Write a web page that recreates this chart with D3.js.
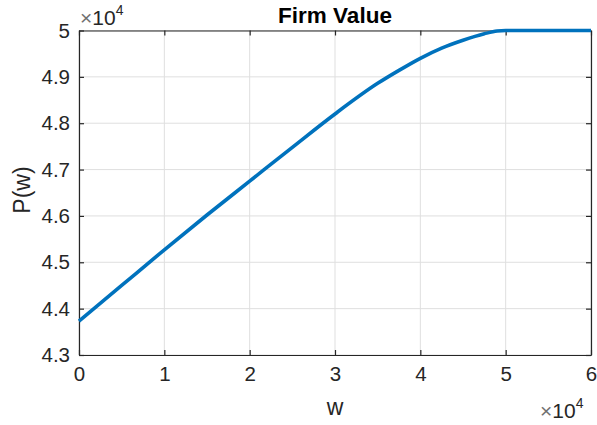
<!DOCTYPE html>
<html><head><meta charset="utf-8">
<script src="https://cdn.jsdelivr.net/npm/d3@7"></script>
<style>body{margin:0;background:#fff}svg{display:block}text{font-family:"Liberation Sans",Arial,Helvetica,sans-serif}</style>
</head><body><svg id="c" width="597" height="425"></svg>
<script>
// w in units of 1e4, P in units of 1e4
const wVals = [0, 0.5, 1, 1.5, 2, 2.5, 3, 3.5, 3.75, 4, 4.25, 4.5, 4.75, 4.9, 5, 5.5, 6];
const pVals = [4.373, 4.450, 4.527, 4.602, 4.675, 4.748, 4.820, 4.886, 4.914, 4.940, 4.962, 4.979, 4.993, 4.999, 5.0, 5.0, 5.0];
const xTicks = [0, 1, 2, 3, 4, 5, 6];
const yTicks = [4.3, 4.4, 4.5, 4.6, 4.7, 4.8, 4.9, 5];

const svg = d3.select("#c");
const L = 79, R = 591, T = 30.5, B = 355;
const x = d3.scaleLinear().domain([0, 6]).range([L, R]);
const y = d3.scaleLinear().domain([4.3, 5]).range([B, T]);
const axisCol = "#262626";

// grid
svg.append("g").selectAll("line.gx").data(xTicks).join("line")
  .attr("x1", d => x(d)).attr("x2", d => x(d)).attr("y1", T).attr("y2", B)
  .attr("stroke", "#dfdfdf").attr("stroke-width", 1);
svg.append("g").selectAll("line.gy").data(yTicks).join("line")
  .attr("x1", L).attr("x2", R).attr("y1", d => y(d)).attr("y2", d => y(d))
  .attr("stroke", "#dfdfdf").attr("stroke-width", 1);

// axes
const xa = svg.append("g").attr("transform", `translate(0,${B})`)
  .call(d3.axisBottom(x).tickValues(xTicks).tickFormat(d3.format("d")).tickSizeInner(-5).tickSizeOuter(0).tickPadding(11));
const xt = svg.append("g").attr("transform", `translate(0,${T})`)
  .call(d3.axisTop(x).tickValues(xTicks).tickFormat("").tickSizeInner(-5).tickSizeOuter(0));
const ya = svg.append("g").attr("transform", `translate(${L},0)`)
  .call(d3.axisLeft(y).tickValues(yTicks).tickFormat(d => d === 5 ? "5" : d3.format(".1f")(d)).tickSizeInner(-5).tickSizeOuter(0).tickPadding(9));
const yr = svg.append("g").attr("transform", `translate(${R},0)`)
  .call(d3.axisRight(y).tickValues(yTicks).tickFormat("").tickSizeInner(-5).tickSizeOuter(0));
[xa, xt, ya, yr].forEach(g => {
  g.select(".domain").attr("stroke", axisCol).attr("stroke-width", 1.2);
  g.selectAll(".tick line").attr("stroke", axisCol).attr("stroke-width", 1.2);
  g.selectAll(".tick text").attr("fill", axisCol).style("font-size", "20.5px").style("font-family", '"Liberation Sans",Arial,sans-serif');
});

// line
const line = d3.line().x((d, i) => x(wVals[i])).y((d, i) => y(pVals[i])).curve(d3.curveMonotoneX);
svg.append("path").datum(pVals).attr("d", line)
  .attr("fill", "none").attr("stroke", "#0072BD").attr("stroke-width", 3.6).attr("stroke-linejoin", "round");

// title
svg.append("text").attr("x", (L + R) / 2).attr("y", 23).attr("text-anchor", "middle")
  .style("font-size", "22.5px").style("font-weight", "bold").attr("fill", "#000").text("Firm Value");

// labels
svg.append("text").attr("x", (L + R) / 2).attr("y", 415).attr("text-anchor", "middle")
  .style("font-size", "23px").attr("fill", axisCol).text("w");
svg.append("text").attr("transform", `translate(30,190) rotate(-90)`).attr("text-anchor", "middle")
  .style("font-size", "23px").attr("fill", axisCol).text("P(w)");

// exponent labels
function expLabel(xp, yp) {
  const t = svg.append("text").attr("x", xp).attr("y", yp).style("font-size", "21px").attr("fill", axisCol);
  t.append("tspan").attr("fill", "#707070").text("\u00d7");
  t.append("tspan").text("10");
  t.append("tspan").attr("dy", -10).style("font-size", "14px").text("4");
}
expLabel(80, 25);
expLabel(540, 418);
</script></body></html>
